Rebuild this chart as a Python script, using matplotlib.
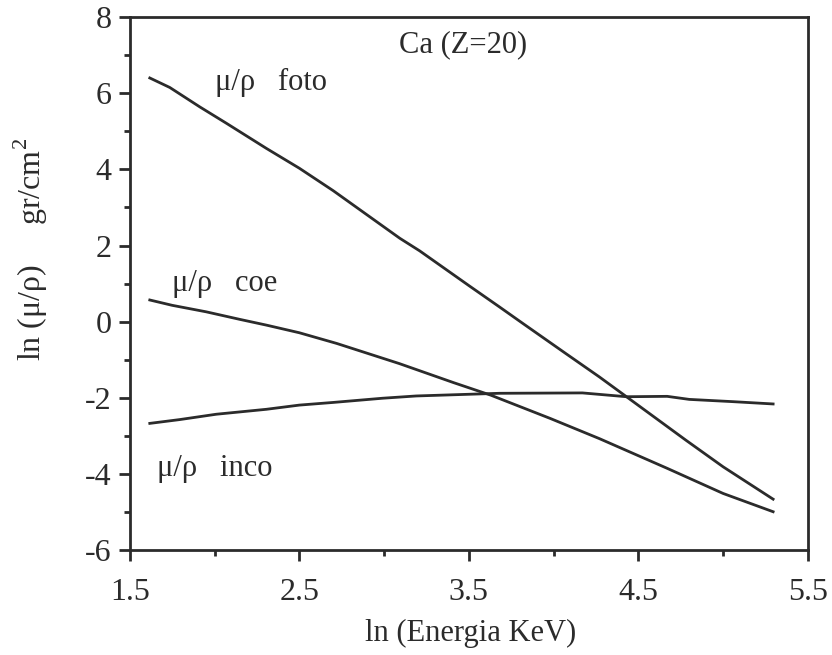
import matplotlib
matplotlib.use("Agg")
import matplotlib.pyplot as plt
from matplotlib.ticker import MultipleLocator

plt.rcParams['font.family'] = ['Liberation Serif', 'DejaVu Serif']
plt.rcParams['mathtext.fontset'] = 'custom'
plt.rcParams['mathtext.rm'] = 'Liberation Serif'
plt.rcParams['axes.unicode_minus'] = False

# ln(E) values
foto_x = [1.618, 1.736, 1.913, 2.07, 2.306, 2.50, 2.70, 3.093, 3.21, 3.506, 3.68, 3.82, 4.07, 4.27, 4.43, 4.78, 5.00, 5.295]
foto_y = [6.40, 6.15, 5.64, 5.21, 4.55, 4.03, 3.44, 2.19, 1.86, 0.93, 0.39, -0.05, -0.83, -1.45, -1.97, -3.11, -3.81, -4.66]

coe_x = [1.618, 1.75, 1.95, 2.15, 2.306, 2.50, 2.72, 3.09, 3.41, 3.63, 3.98, 4.27, 4.67, 5.00, 5.295]
coe_y = [0.57, 0.43, 0.26, 0.06, -0.09, -0.29, -0.57, -1.10, -1.60, -1.93, -2.54, -3.07, -3.85, -4.51, -4.99]

inco_x = [1.618, 1.795, 2.01, 2.306, 2.50, 2.70, 2.99, 3.19, 3.68, 4.17, 4.43, 4.67, 4.80, 5.06, 5.295]
inco_y = [-2.67, -2.57, -2.43, -2.30, -2.19, -2.12, -2.01, -1.95, -1.88, -1.87, -1.97, -1.96, -2.04, -2.10, -2.16]

xticks = [1.5, 2.5, 3.5, 4.5, 5.5]
yticks = [-6, -4, -2, 0, 2, 4, 6, 8]

ink = '#2b2b2b'

fig = plt.figure(figsize=(8.32, 6.55), dpi=100)
ax = fig.add_axes([0.156, 0.160, 0.815, 0.814])

ax.plot(foto_x, foto_y, color=ink, lw=2.0)
ax.plot(coe_x, coe_y, color=ink, lw=2.0)
ax.plot(inco_x, inco_y, color=ink, lw=2.0)

ax.set_xlim(1.5, 5.5)
ax.set_ylim(-6, 8)
ax.set_xticks(xticks)
ax.set_xticklabels([str(t) for t in xticks])
ax.set_yticks(yticks)
ax.xaxis.set_minor_locator(MultipleLocator(0.5))
ax.yaxis.set_minor_locator(MultipleLocator(1))
ax.tick_params(which='both', direction='out', colors=ink, width=2, labelsize=23)
ax.tick_params(which='major', length=8)
ax.tick_params(which='minor', length=4.5)
ax.tick_params(axis='x', pad=12)
ax.tick_params(axis='y', pad=5)
for s in ax.spines.values():
    s.set_linewidth(2)
    s.set_color(ink)

# annotations
ax.text(3.09, 7.27, 'Ca (Z=20)', fontsize=22, color=ink, va='center')
ax.text(2.0, 6.27, 'μ/ρ   foto', fontsize=22, color=ink, va='center')
ax.text(1.75, 1.01, 'μ/ρ   coe', fontsize=22, color=ink, va='center')
ax.text(1.66, -3.85, 'μ/ρ   inco', fontsize=22, color=ink, va='center')

ax.set_xlabel('ln (Energia KeV)', fontsize=22, color=ink)
ax.set_ylabel('ln (μ/ρ)     gr/cm$^{\\mathrm{2}}$', fontsize=23, color=ink)
ax.xaxis.set_label_coords(0.503, -0.128)
ax.yaxis.set_label_coords(-0.117, 0.565)

fig.savefig('out.png', dpi=100)
